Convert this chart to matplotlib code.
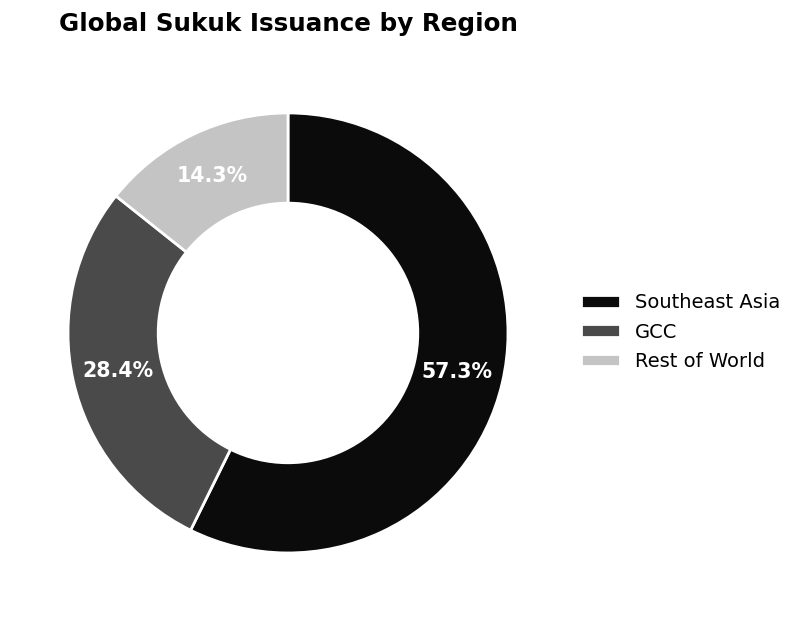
import matplotlib.pyplot as plt

# Data
regions = ["Southeast Asia", "GCC", "Rest of World"]
shares = [57.3, 28.4, 14.3]
colors = ["#0b0b0b", "#4a4a4a", "#c4c4c4"]

fig = plt.figure(figsize=(8, 6.22), dpi=100)
ax = fig.add_axes([0.085, 0.111, 0.55, 0.7074])

wedges, texts, autotexts = ax.pie(
    shares,
    colors=colors,
    startangle=90,
    counterclock=False,
    autopct="%.1f%%",
    pctdistance=0.79,
    wedgeprops=dict(width=0.41, edgecolor="white", linewidth=2),
)
for t in autotexts:
    t.set_color("white")
    t.set_fontsize(14.8)
    t.set_fontweight("bold")

ax.set_xlim(-1, 1)
ax.set_ylim(-1, 1)
ax.set_aspect("equal")

fig.text(0.36, 1 - 24 / 622, "Global Sukuk Issuance by Region",
         ha="center", va="center", fontsize=17.7, fontweight="bold")

fig.legend(wedges, regions, loc="center left", bbox_to_anchor=(0.704, 1 - 332 / 622),
           frameon=False, fontsize=14, handlelength=2.0, handleheight=0.6,
           labelspacing=0.52)

fig.savefig("out.png", dpi=100)
